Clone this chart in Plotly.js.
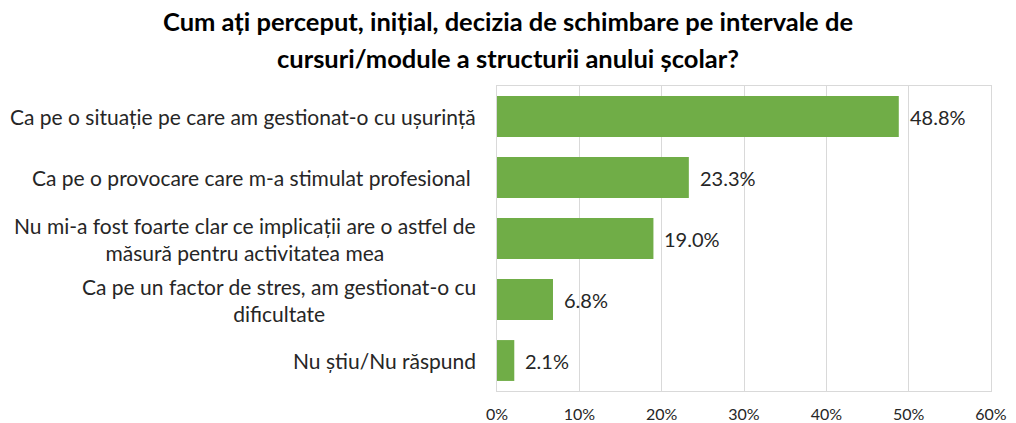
<!DOCTYPE html>
<html>
<head>
<meta charset="utf-8">
<script src="https://cdn.plot.ly/plotly-3.0.1.min.js"></script>
<style>html,body{margin:0;padding:0;background:#fff;}#chart{width:1016px;height:423px;}</style>
</head>
<body>
<div id="chart"></div>
<script>
var categories = [
  "Ca pe o situație pe care am gestionat-o cu ușurință",
  "Ca pe o provocare care m-a stimulat profesional ",
  "Nu mi-a fost foarte clar ce implicații are o astfel de<br>măsură pentru activitatea mea",
  "Ca pe un factor de stres, am gestionat-o cu<br>dificultate",
  "Nu știu/Nu răspund"
];
var values = [48.8, 23.3, 19.0, 6.8, 2.1];
var xTickVals = [0, 10, 20, 30, 40, 50, 60];
var xTickText = ["0%", "10%", "20%", "30%", "40%", "50%", "60%"];
var titleLine1 = "Cum ați perceput, inițial, decizia de schimbare pe intervale de";
var titleLine2 = "cursuri/module a structurii anului școlar?";

var FONT = "Lato, 'Open Sans', sans-serif";
var TXT = "#262626";
var W = 1016, H = 423, L = 497, R = 25, T = 86, B = 32;
var plotW = W - L - R, plotH = H - T - B;

var trace = {
  type: "bar",
  orientation: "h",
  x: values,
  y: categories,
  marker: {color: "#70AD47"},
  hoverinfo: "none"
};

var annotations = categories.map(function(c){
  return {
    xref: "paper", yref: "y", x: -19 / plotW, y: c,
    xanchor: "right", yanchor: "middle", align: "center",
    text: c, showarrow: false,
    font: {family: FONT, size: 21, color: TXT}
  };
});
values.forEach(function(v, i){
  annotations.push({
    xref: "x", yref: "y", x: v, y: categories[i],
    xanchor: "left", yanchor: "middle", xshift: 9,
    text: v.toFixed(1) + "%", showarrow: false,
    font: {family: FONT, size: 20, color: TXT}
  });
});
annotations.push({
  xref: "paper", yref: "paper", x: (W / 2 - L) / plotW, y: (H - B - 58) / plotH,
  xanchor: "center", yanchor: "middle",
  text: "<b>" + titleLine2 + "</b>", showarrow: false,
  font: {family: FONT, size: 25.5, color: "#000"}
});

var layout = {
  width: W, height: H,
  margin: {l: L, r: R, t: T, b: B, pad: 0},
  paper_bgcolor: "#fff", plot_bgcolor: "#fff",
  title: {
    text: "<b>" + titleLine1 + "</b>",
    font: {family: FONT, size: 25.5, color: "#000"},
    xref: "container", x: 0.5, xanchor: "center",
    yref: "container", y: 1 - 22 / H, yanchor: "middle"
  },
  bargap: 0.33,
  showlegend: false,
  xaxis: {
    range: [0, 60], tickvals: xTickVals, ticktext: xTickText,
    showgrid: true, gridcolor: "#d9d9d9", gridwidth: 1,
    zeroline: false, showline: true, mirror: true, linecolor: "#d9d9d9", linewidth: 1,
    ticks: "", ticklen: 0, ticklabelstandoff: 9,
    tickfont: {family: FONT, size: 16, color: TXT},
    fixedrange: true
  },
  yaxis: {
    type: "category", autorange: "reversed",
    showticklabels: false, showgrid: false, zeroline: false,
    showline: true, mirror: true, linecolor: "#d9d9d9", linewidth: 1,
    ticks: "", fixedrange: true
  },
  annotations: annotations
};

Plotly.newPlot("chart", [trace], layout, {displayModeBar: false, staticPlot: true});
</script>
</body>
</html>
